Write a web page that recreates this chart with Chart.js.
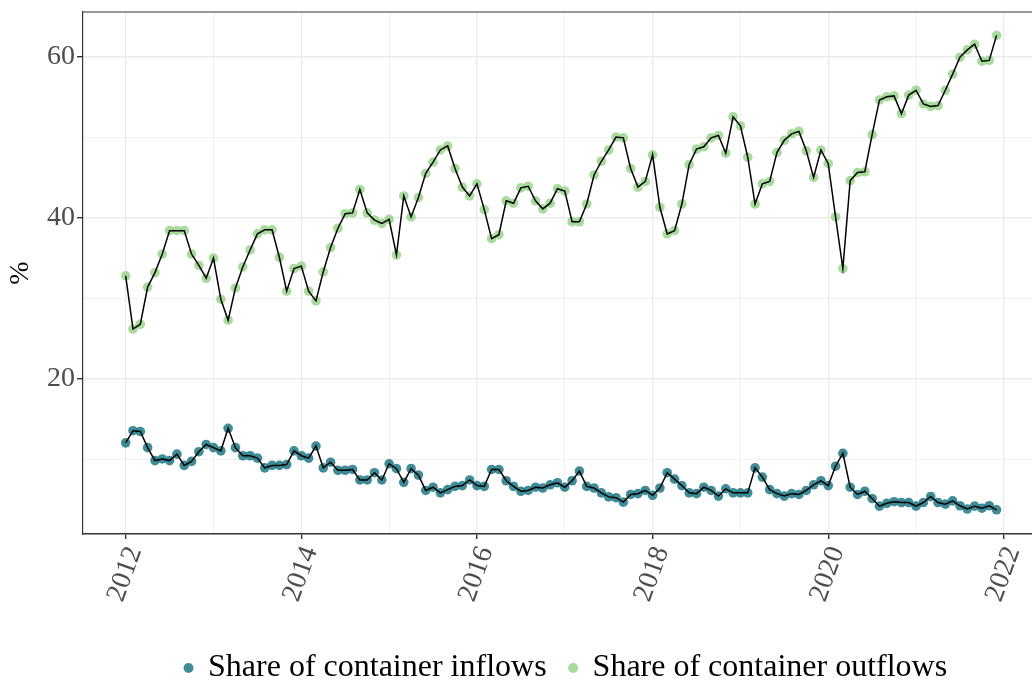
<!DOCTYPE html>
<html>
<head>
<meta charset="utf-8">
<script src="https://cdn.jsdelivr.net/npm/chart.js@4"></script>
<style>
    html, body { margin: 0; padding: 0; background: #fff; overflow: hidden; }
    /* the panel runs past the right edge in the original, so the canvas is cropped */
    #chart-wrap { width: 1032px; height: 682px; overflow: hidden; }
</style>
</head>
<body>
<div id="chart-wrap"><canvas id="shareChart" width="1038" height="682"></canvas></div>
<script>
/*=============== CONTAINER FLOW SHARES ===============*/

// Monthly observations, Jan 2012 - Dec 2021
const startYear = 2012;

// Share of container inflows (%)
const inflows = [
    12.1, 13.6, 13.5, 11.5, 9.9, 10.1, 9.9, 10.7, 9.3, 9.8, 11.0, 11.9,   // 2012
    11.5, 11.1, 13.9, 11.5, 10.5, 10.5, 10.2, 9.0, 9.3, 9.3, 9.4, 11.1,   // 2013
    10.5, 10.2, 11.7, 9.0, 9.7, 8.7, 8.7, 8.8, 7.5, 7.5, 8.4, 7.5,        // 2014
    9.5, 8.9, 7.2, 8.9, 8.1, 6.2, 6.6, 5.9, 6.3, 6.7, 6.8, 7.5,           // 2015
    6.8, 6.7, 8.8, 8.8, 7.4, 6.7, 6.1, 6.2, 6.6, 6.5, 6.9, 7.15,          // 2016
    6.6, 7.4, 8.6, 6.7, 6.5, 5.9, 5.4, 5.3, 4.75, 5.7, 5.8, 6.2,          // 2017
    5.6, 6.5, 8.4, 7.6, 6.8, 5.9, 5.8, 6.6, 6.2, 5.5, 6.4, 5.9,           // 2018
    5.9, 5.9, 9.0, 7.85, 6.3, 5.8, 5.5, 5.8, 5.7, 6.2, 6.9, 7.4,          // 2019
    6.8, 9.2, 10.8, 6.6, 5.7, 6.1, 5.2, 4.25, 4.6, 4.8, 4.7, 4.7,         // 2020
    4.25, 4.7, 5.45, 4.7, 4.5, 4.9, 4.3, 3.9, 4.25, 4.0, 4.3, 3.8         // 2021
];

// Share of container outflows (%)
const outflows = [
    32.8, 26.2, 26.8, 31.4, 33.2, 35.5, 38.4, 38.4, 38.4, 35.5, 34.1, 32.5, // 2012
    35.0, 29.9, 27.3, 31.3, 33.9, 36.0, 38.0, 38.5, 38.5, 35.1, 30.9, 33.7, // 2013
    34.0, 30.9, 29.7, 33.3, 36.3, 38.7, 40.5, 40.6, 43.5, 40.6, 39.7, 39.3, // 2014
    39.8, 35.4, 42.7, 40.1, 42.5, 45.5, 46.9, 48.4, 48.9, 46.1, 43.8, 42.7, // 2015
    44.2, 41.0, 37.4, 37.9, 42.1, 41.8, 43.7, 43.9, 42.1, 41.1, 41.8, 43.6, // 2016
    43.3, 39.5, 39.5, 41.7, 45.3, 47.0, 48.4, 50.0, 49.9, 46.1, 43.8, 44.5, // 2017
    47.8, 41.3, 38.0, 38.4, 41.7, 46.6, 48.5, 48.8, 49.9, 50.2, 48.0, 52.5, // 2018
    51.4, 47.5, 41.7, 44.2, 44.5, 48.1, 49.6, 50.4, 50.7, 48.3, 45.0, 48.4, // 2019
    46.7, 40.1, 33.7, 44.6, 45.6, 45.7, 50.3, 54.6, 55.0, 55.1, 52.9, 55.2, // 2020
    55.8, 54.1, 53.8, 53.9, 55.8, 57.8, 59.9, 60.8, 61.5, 59.4, 59.5, 62.6  // 2021
];

// Axis ticks (minor ones get a grid line but no label)
const xTicks = [2012, 2013, 2014, 2015, 2016, 2017, 2018, 2019, 2020, 2021, 2022];
const xLabels = [2012, 2014, 2016, 2018, 2020, 2022];
const yTicks = [10, 20, 30, 40, 50, 60];
const yLabels = [20, 40, 60];

const seriesNames = ['Share of container inflows', 'Share of container outflows'];
const seriesColors = ['rgba(31, 120, 132, 0.85)', 'rgba(140, 205, 125, 0.75)'];

const serif = "'Liberation Serif', 'Times New Roman', serif";

const toPoints = values => values.map((v, i) => ({ x: startYear + i / 12, y: v }));

// Line datasets come first so they are drawn on top of the dots
const lineDataset = values => ({
    label: '',
    data: toPoints(values),
    borderColor: '#000',
    borderWidth: 1.5,
    pointRadius: 0,
    fill: false,
    tension: 0
});

const dotDataset = (values, i) => ({
    label: seriesNames[i],
    data: toPoints(values),
    showLine: false,
    pointStyle: 'circle',
    pointRadius: 4.8,
    pointBorderWidth: 0,
    borderWidth: 0,
    backgroundColor: seriesColors[i],
    pointBackgroundColor: seriesColors[i]
});

// Scales should not push the panel in for their edge labels
const noEdgePadding = scale => {
    scale.paddingTop = 0;
    scale.paddingBottom = 0;
    scale.paddingLeft = 0;
    scale.paddingRight = 0;
};

// Top edge of the panel border
const panelBorder = {
    id: 'panelBorder',
    afterDraw(chart) {
        const { ctx, chartArea } = chart;
        ctx.save();
        ctx.strokeStyle = '#333';
        ctx.lineWidth = 1.2;
        ctx.beginPath();
        ctx.moveTo(chartArea.left, chartArea.top);
        ctx.lineTo(chartArea.right, chartArea.top);
        ctx.stroke();
        ctx.restore();
    }
};

// Legend sits a bit right of the panel centre in the original
const legendShift = {
    id: 'legendShift',
    afterLayout(chart) {
        chart.legend.left += 8;
        chart.legend.right += 8;
    }
};

document.addEventListener('DOMContentLoaded', () => {
    const ctx = document.getElementById('shareChart').getContext('2d');
    new Chart(ctx, {
        type: 'line',
        data: {
            datasets: [
                lineDataset(inflows),
                lineDataset(outflows),
                dotDataset(inflows, 0),
                dotDataset(outflows, 1)
            ]
        },
        options: {
            responsive: false,
            animation: false,
            layout: { padding: { top: 12, right: 0, left: 0, bottom: -12 } },
            plugins: {
                tooltip: { enabled: false },
                legend: {
                    position: 'bottom',
                    fullSize: false,
                    labels: {
                        usePointStyle: true,
                        boxWidth: 7,
                        boxHeight: 7,
                        padding: 23,
                        color: '#000',
                        font: { family: serif, size: 32 },
                        filter: item => item.text !== ''
                    }
                }
            },
            scales: {
                x: {
                    type: 'linear',
                    min: 2011.514,
                    max: 2022.334,
                    afterBuildTicks: axis => { axis.ticks = xTicks.map(v => ({ value: v })); },
                    afterFit: scale => { scale.height = 95; noEdgePadding(scale); },
                    ticks: {
                        autoSkip: false,
                        minRotation: 70,
                        maxRotation: 70,
                        padding: 3,
                        labelOffset: 9,
                        color: '#4d4d4d',
                        font: { family: serif, size: 28 },
                        callback: v => xLabels.includes(v) ? String(v) : ''
                    },
                    grid: {
                        color: '#ebebeb',
                        lineWidth: c => xLabels.includes(c.tick.value) ? 1.4 : 0.7,
                        tickColor: c => xLabels.includes(c.tick.value) ? '#333' : 'rgba(0,0,0,0)',
                        tickLength: 5
                    },
                    border: { display: true, color: '#333', width: 1.4 }
                },
                y: {
                    min: 0.8,
                    max: 65.5,
                    afterBuildTicks: axis => { axis.ticks = yTicks.map(v => ({ value: v })); },
                    afterFit: scale => { scale.width = 83; noEdgePadding(scale); },
                    title: {
                        display: true,
                        text: '%',
                        color: '#000',
                        font: { family: serif, size: 28 },
                        padding: { top: 4, bottom: 0 }
                    },
                    ticks: {
                        padding: 2,
                        color: '#4d4d4d',
                        font: { family: serif, size: 28 },
                        callback: v => yLabels.includes(v) ? String(v) : ''
                    },
                    grid: {
                        color: '#ebebeb',
                        lineWidth: c => yLabels.includes(c.tick.value) ? 1.4 : 0.7,
                        tickColor: c => yLabels.includes(c.tick.value) ? '#333' : 'rgba(0,0,0,0)',
                        tickLength: 6
                    },
                    border: { display: true, color: '#333', width: 1.2 }
                }
            }
        },
        plugins: [panelBorder, legendShift]
    });
});
</script>
</body>
</html>
